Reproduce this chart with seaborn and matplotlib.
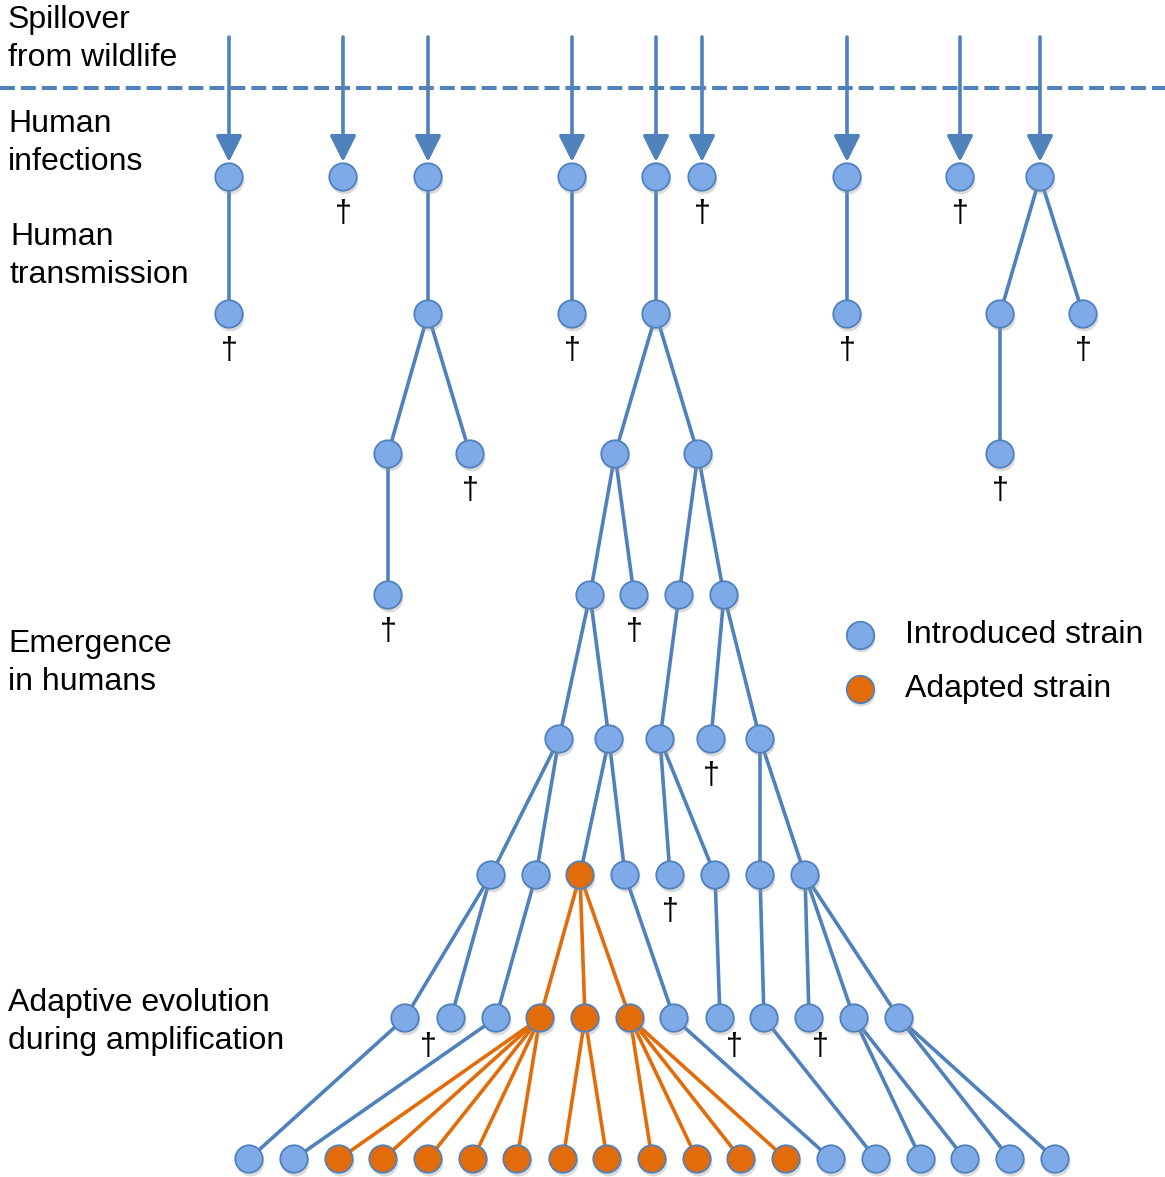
# Spillover -> emergence tree diagram (introduced vs adapted strain)
import numpy as np
import pandas as pd
import matplotlib
matplotlib.use("Agg")
import matplotlib.pyplot as plt
import seaborn as sns

sns.set_style("white")
plt.rcParams['font.family'] = ['Liberation Sans', 'DejaVu Sans']

# --------------------------
# DATA
# --------------------------
# y position of each generation (pixels from top)
level_y = [177, 314, 454, 595, 739, 875, 1018, 1159]

# x position of nodes per generation
x_lvl0 = [229, 343, 428, 572, 656, 702, 847, 960, 1040]
x_lvl1 = [229, 428, 572, 656, 847, 1000, 1083]
x_lvl2 = [388, 470, 615, 698, 1000]
x_lvl3 = [388, 590, 634, 679, 724]
x_lvl4 = [559, 609, 660, 711, 760]
x_lvl5 = [491, 536, 580, 625, 670, 715, 760, 805]
x_lvl6 = [405, 451, 496, 540, 585, 630, 674, 720, 764, 809, 854, 899]
x_lvl7 = [249, 294, 339, 383, 428, 473, 517, 563, 607, 652, 697, 741,
          786, 831, 876, 921, 965, 1010, 1055]

# index of parent (in previous generation) for each node
par_lvl1 = [0, 2, 3, 4, 6, 8, 8]
par_lvl2 = [1, 1, 3, 3, 5]
par_lvl3 = [0, 2, 2, 3, 3]
par_lvl4 = [1, 1, 3, 4, 4]
par_lvl5 = [0, 0, 1, 1, 2, 2, 4, 4]
par_lvl6 = [0, 0, 1, 2, 2, 2, 3, 5, 6, 7, 7, 7]
par_lvl7 = [0, 2, 3, 3, 3, 3, 3, 4, 4, 5, 5, 5, 5, 6, 8, 10, 10, 11, 11]

# adapted strain nodes: (generation, index)
adapted = [(5, 2), (6, 3), (6, 4), (6, 5)] + [(7, i) for i in range(2, 13)]

row_labels = ["Spillover\nfrom wildlife", "Human\ninfections", "Human\ntransmission",
              "Emergence\nin humans", "Adaptive evolution\nduring amplification"]
legend_labels = ["Introduced strain", "Adapted strain"]

# --------------------------
# BUILD NODE / EDGE TABLES
# --------------------------
xs = [x_lvl0, x_lvl1, x_lvl2, x_lvl3, x_lvl4, x_lvl5, x_lvl6, x_lvl7]
parents = [None, par_lvl1, par_lvl2, par_lvl3, par_lvl4, par_lvl5, par_lvl6, par_lvl7]

rows = []
for lv, xl in enumerate(xs):
    for i, xv in enumerate(xl):
        has_child = lv < 7 and i in parents[lv + 1]
        rows.append({
            "level": lv, "idx": i, "x": xv, "y": level_y[lv],
            "strain": "Adapted" if (lv, i) in adapted else "Introduced",
            "dead": (lv < 7) and not has_child,
        })
nodes = pd.DataFrame(rows)

BLUE = "#4F81BD"
FILL = "#7EAAE8"
ORANGE = "#E36C0A"

fig = plt.figure(figsize=(11.65, 11.77), dpi=100)
ax = fig.add_axes([0, 0, 1, 1])
ax.set_xlim(0, 1165)
ax.set_ylim(1177, 0)
ax.axis("off")

# dashed boundary between wildlife and humans
ax.axhline(88, color=BLUE, lw=2.9, dashes=(3.7, 1.5), zorder=1)

# spillover arrows
for xv in x_lvl0:
    ax.annotate("", xy=(xv, 162), xytext=(xv, 37),
                arrowprops=dict(arrowstyle="-|>,head_length=0.4,head_width=0.2",
                                mutation_scale=40, color=BLUE, lw=2.6,
                                shrinkA=0, shrinkB=0), zorder=2)

# edges
for lv in range(1, 8):
    for i, p in enumerate(parents[lv]):
        px, py = xs[lv - 1][p], level_y[lv - 1]
        cx, cy = xs[lv][i], level_y[lv]
        col = ORANGE if (lv - 1, p) in adapted else BLUE
        ax.plot([px, cx], [py, cy], color=col, lw=2.6, solid_capstyle="butt", zorder=2)

# node shadows
ax.scatter(nodes["x"] + 1, nodes["y"] + 3, s=400, color="#9a9a9a", alpha=0.35,
           lw=0, zorder=3)

# nodes
sns.scatterplot(data=nodes, x="x", y="y", hue="strain",
                palette={"Introduced": FILL, "Adapted": ORANGE},
                s=390, edgecolor=BLUE, linewidth=1.3, legend=False, ax=ax, zorder=4)
ax.set_xlabel("")
ax.set_ylabel("")

# daggers for dead-end lineages
shift_bottom = {1: -23, 7: 14, 9: 11}
for _, r in nodes[nodes["dead"]].iterrows():
    dx = shift_bottom.get(r["idx"], 0) if r["level"] == 6 else 0
    dy = 29 if r["level"] == 6 else 37
    ax.text(r["x"] + dx, r["y"] + dy, "\u2020", fontsize=22, ha="center",
            va="center", color="black", zorder=5)

# row labels
label_pos = [(8, 39), (8, 143), (10, 256), (8, 663), (8, 1022)]
for (tx, ty), lab in zip(label_pos, row_labels):
    ax.text(tx, ty, lab, fontsize=23, ha="left", va="center", linespacing=1.32,
            color="black")

# legend
for k, (lab, col) in enumerate(zip(legend_labels, [FILL, ORANGE])):
    ly = 635 + 54 * k
    ax.scatter([861], [ly + 3], s=400, color="#9a9a9a", alpha=0.35, lw=0, zorder=3)
    ax.scatter([860], [ly], s=390, color=col, edgecolor=BLUE, lw=1.3, zorder=4)
    ax.text(905, ly, lab, fontsize=23, ha="left", va="center", color="black")

plt.savefig("out.png", dpi=100)
